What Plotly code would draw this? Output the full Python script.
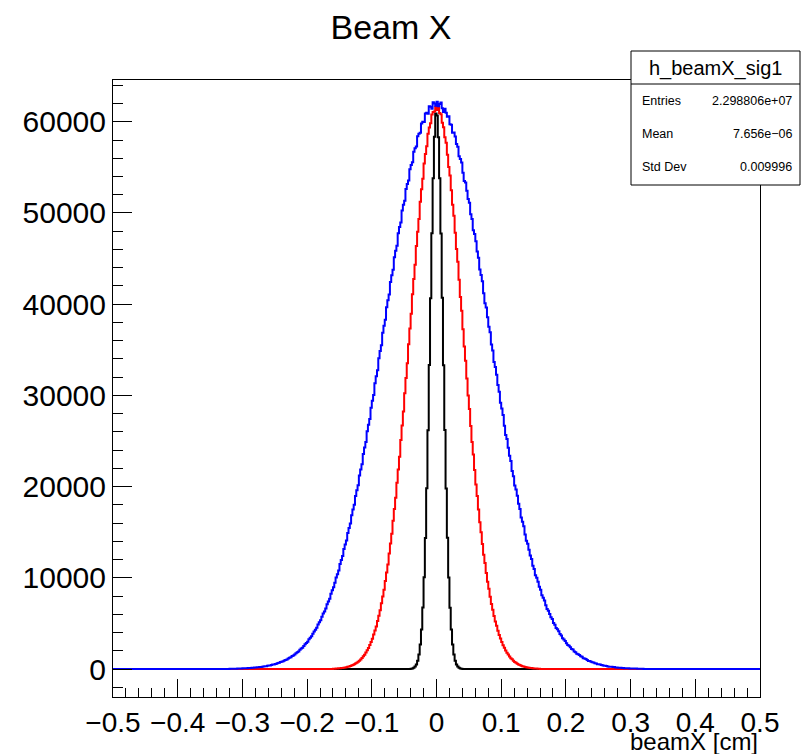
import plotly.graph_objects as go

# ---------------- data ----------------
# Histogram bin contents; each series: first bin lower edge, bin width, counts
black_lo = -0.040
black_w = 0.002
black_counts = [
    30, 66, 134, 262, 498, 905, 1600, 2690, 4320, 6740,
    10050, 14360, 19830, 26180, 33330, 40660, 47780, 53820, 58350, 60900,
    60700, 58300, 53800, 47750, 40700, 33300, 26200, 19800, 14380, 10030,
    6725, 4330, 2680, 1590, 910, 500, 263, 133, 65, 30,
]

red_lo = -0.160
red_w = 0.002
red_counts = [
    34, 39, 49, 57, 72, 81, 97, 121, 142, 163,
    199, 234, 268, 324, 377, 430, 514, 593, 676, 799,
    915, 1040, 1215, 1385, 1562, 1810, 2050, 2300, 2640, 2970,
    3310, 3770, 4210, 4660, 5270, 5850, 6430, 7210, 7940, 8680,
    9660, 10570, 11470, 12670, 13760, 14840, 16260, 17530, 18790, 20430,
    21870, 23280, 25120, 26700, 28240, 30240, 31910, 33530, 35620, 37340,
    38960, 41080, 42750, 44320, 46370, 47930, 49330, 51230, 52590, 53750,
    55420, 56470, 57320, 58680, 59360, 59830, 60800, 61080, 61120, 61650,
    61300, 61550, 60950, 60820, 59880, 59400, 58300, 57700, 56380, 55050,
    54120, 52500, 50890, 49700, 47820, 46050, 44640, 42680, 40780, 39270,
    37250, 35350, 33810, 31840, 29990, 28500, 26630, 24900, 23510, 21810,
    20240, 18980, 17480, 16100, 15000, 13710, 12540, 11610, 10530, 9560,
    8790, 7910, 7130, 6510, 5820, 5200, 4730, 4190, 3720, 3350,
    2950, 2600, 2330, 2040, 1780, 1590, 1375, 1190, 1058, 908,
    780, 690, 586, 500, 441, 370, 315, 276, 229, 192,
    169, 138, 116, 101, 82, 68, 59, 47, 41, 32,
]

blue_lo = -0.320
blue_w = 0.002
blue_counts = [
    25, 31, 30, 36, 41, 40, 50, 53, 55, 66,
    70, 72, 86, 88, 103, 104, 121, 124, 135, 158,
    160, 186, 190, 220, 224, 246, 282, 288, 310, 360,
    380, 395, 430, 488, 505, 560, 580, 652, 684, 760,
    790, 850, 945, 985, 1040, 1160, 1230, 1290, 1430, 1490,
    1580, 1740, 1840, 1920, 2110, 2240, 2340, 2510, 2720, 2840,
    3000, 3270, 3440, 3580, 3860, 4120, 4290, 4520, 4890, 5120,
    5340, 5730, 6090, 6300, 6620, 7100, 7390, 7700, 8250, 8640,
    8960, 9470, 10040, 10380, 10800, 11500, 11960, 12380, 13150, 13640,
    14100, 14920, 15470, 15960, 16870, 17480, 18010, 18960, 19590, 20160,
    21220, 21880, 22450, 23560, 24290, 24890, 26060, 26790, 27420, 28650,
    29420, 30050, 31330, 32110, 32760, 34080, 34870, 35500, 36870, 37640,
    38290, 39660, 40430, 41050, 42430, 43180, 43770, 45140, 45870, 46420,
    47770, 48450, 48950, 50280, 50900, 51340, 52620, 53180, 53550, 54790,
    55260, 55550, 56720, 57110, 57300, 58400, 58700, 58790, 59810, 60000,
    59980, 60910, 60990, 60870, 61700, 61660, 61420, 62150, 62000, 61760,
    62190, 61690, 61960, 62110, 61470, 61060, 61430, 61000, 60550, 60610,
    59730, 59670, 58800, 58820, 58390, 57570, 57250, 56210, 55930, 55540,
    54410, 53500, 53340, 52440, 51540, 51120, 49850, 49350, 48110, 47700,
    46910, 45780, 45100, 43810, 43190, 42510, 41190, 40090, 39640, 38570,
    37530, 36910, 35580, 34910, 33660, 33120, 32250, 31140, 30410, 29190,
    28550, 27850, 26660, 25670, 25210, 24270, 23370, 22810, 21710, 21140,
    20120, 19670, 18990, 18110, 17550, 16620, 16140, 15640, 14760, 14050,
    13730, 13070, 12450, 12070, 11320, 10960, 10280, 10000, 9560, 9010,
    8680, 8090, 7820, 7510, 6990, 6580, 6400, 6020, 5670, 5480,
    5050, 4860, 4490, 4360, 4140, 3840, 3680, 3360, 3240, 3080,
    2820, 2620, 2560, 2380, 2200, 2130, 1910, 1850, 1660, 1630,
    1540, 1390, 1340, 1180, 1150, 1090, 980, 890, 880, 804,
    732, 714, 620, 604, 525, 525, 492, 432, 419, 358,
    350, 338, 284, 256, 260, 235, 207, 210, 169, 170,
    141, 144, 137, 112, 112, 93, 95, 82, 80, 63,
    62, 60, 48, 49, 43, 36, 37, 32, 27, 27,
]

x_range = [-0.5, 0.5]
y_range = [-3070, 64580]

stats_name = "h_beamX_sig1"
stats_labels = ["Entries", "Mean", "Std Dev"]
stats_values = ["2.298806e+07", "7.656e\u221206", "0.009996"]

title_text = "Beam X"
x_title = "beamX [cm]"

# ---------------- helpers ----------------
W, H = 801, 754
FL, FR, FT, FB = 113, 760, 80, 697   # frame in pixels


def px(xp):
    return (xp - FL) / (FR - FL)


def py(yp):
    return (FB - yp) / (FB - FT)


def step_xy(lo, w, counts):
    xs = [x_range[0]]
    ys = [0]
    for i, c in enumerate(counts):
        xs.append(lo + i * w)
        ys.append(c)
    xs.append(lo + len(counts) * w)
    ys.append(0)
    xs.append(x_range[1])
    ys.append(0)
    return xs, ys


FONT = "Liberation Sans, Arial, Helvetica, sans-serif"

fig = go.Figure()
for lo, w, counts, col in [
    (black_lo, black_w, black_counts, "black"),
    (red_lo, red_w, red_counts, "#ff0000"),
    (blue_lo, blue_w, blue_counts, "#0000ff"),
]:
    xs, ys = step_xy(lo, w, counts)
    fig.add_trace(go.Scatter(x=xs, y=ys, mode="lines", line_shape="hv",
                             line=dict(color=col, width=2), showlegend=False,
                             hoverinfo="skip"))

fig.update_layout(
    width=W, height=H,
    margin=dict(l=FL, r=W - FR, t=FT, b=H - FB, pad=0),
    paper_bgcolor="white", plot_bgcolor="white",
    font=dict(family=FONT, color="black"),
    title=dict(text=title_text, x=391 / W, xref="container", xanchor="center",
               y=1 - 27 / H, yref="container", yanchor="middle",
               font=dict(size=34, family=FONT, color="black")),
    showlegend=False,
)

fig.update_xaxes(
    range=x_range, showgrid=False, zeroline=False,
    showline=True, linecolor="black", linewidth=1, mirror=True,
    ticks="inside", ticklen=18, tickwidth=1, tickcolor="black",
    tick0=0, dtick=0.1, tickfont=dict(size=28, family=FONT),
    minor=dict(ticks="inside", ticklen=9, dtick=0.02, tick0=0,
               tickcolor="black", tickwidth=1, showgrid=False),
)
fig.update_yaxes(
    range=y_range, showgrid=False, zeroline=False,
    showline=True, linecolor="black", linewidth=1, mirror=True,
    ticks="inside", ticklen=19, tickwidth=1, tickcolor="black",
    tick0=0, dtick=10000, tickformat="d", tickfont=dict(size=30, family=FONT),
    minor=dict(ticks="inside", ticklen=10, dtick=2000, tick0=0,
               tickcolor="black", tickwidth=1, showgrid=False),
)

# x-axis title, right-aligned at frame edge
fig.add_annotation(text=x_title, xref="paper", yref="paper",
                   x=px(FR), y=py(741), xanchor="right", yanchor="middle",
                   showarrow=False, font=dict(size=24, family=FONT))

# stats box
bx0, bx1, by0, by1, bsep = 631, 800, 51, 185, 84
fig.add_shape(type="rect", xref="paper", yref="paper",
              x0=px(bx0), x1=px(bx1), y0=py(by1), y1=py(by0),
              line=dict(color="black", width=1), fillcolor="white", layer="above")
fig.add_shape(type="line", xref="paper", yref="paper",
              x0=px(bx0), x1=px(bx1), y0=py(bsep), y1=py(bsep),
              line=dict(color="black", width=1), layer="above")
fig.add_annotation(text=stats_name, xref="paper", yref="paper",
                   x=px((bx0 + bx1) / 2), y=py(68), xanchor="center", yanchor="middle",
                   showarrow=False, font=dict(size=20, family=FONT))
row_y = [101, 134, 167]
for lab, val, yy in zip(stats_labels, stats_values, row_y):
    fig.add_annotation(text=lab, xref="paper", yref="paper",
                       x=px(640), y=py(yy), xanchor="left", yanchor="middle",
                       showarrow=False, font=dict(size=12.5, family=FONT))
    fig.add_annotation(text=val, xref="paper", yref="paper",
                       x=px(794), y=py(yy), xanchor="right", yanchor="middle",
                       showarrow=False, font=dict(size=12.5, family=FONT))

fig.write_html("out.html")
